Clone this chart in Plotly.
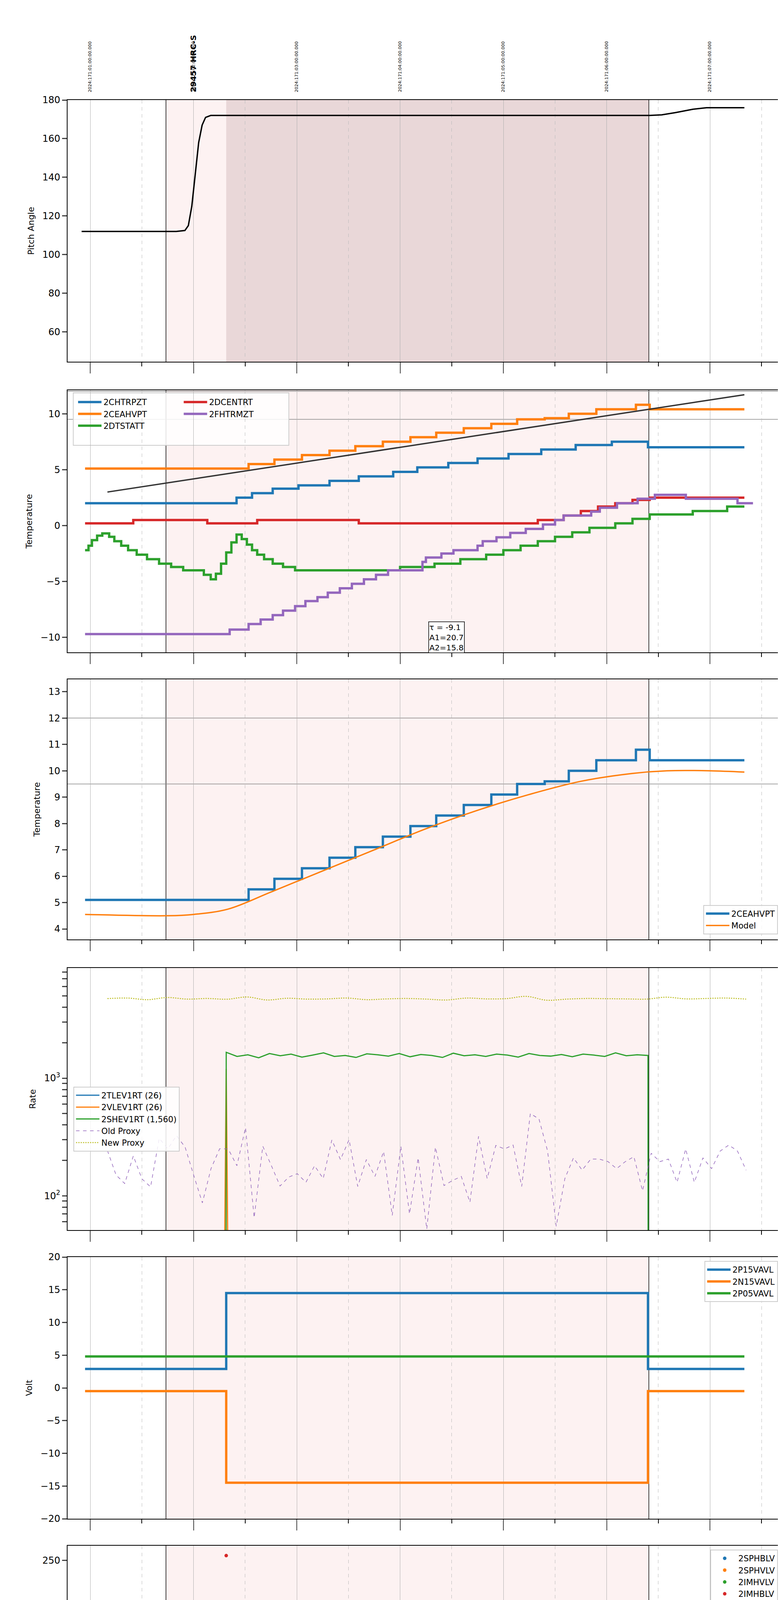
import pandas as pd
import plotly.graph_objects as go
from plotly.subplots import make_subplots

BLUE, ORANGE, GREEN, RED, PURPLE, OLIVE = "#1f77b4", "#ff7f0e", "#2ca02c", "#d62728", "#9467bd", "#bcbd22"
FONT = "DejaVu Sans"

def t(s):
    # local clock time -> timestamp (evening belongs to 2024-06-18)
    hh = int(s.split(":")[0])
    day = "2024-06-18" if hh >= 20 else "2024-06-19"
    return f"{day} {s}" if s.count(":") == 2 else f"{day} {s}:00"

def ts(lst):
    return [t(s) for s in lst]

X_RANGE = [t("20:46:50"), t("03:41:30")]
OBS_START, OBS_STOP = "21:44", "02:24:30"
HV_ON = "22:19"
TOP_LABELS = ["2024:171:01:00:00.000", "2024:171:02:00:00.000", "2024:171:03:00:00.000",
              "2024:171:04:00:00.000", "2024:171:05:00:00.000", "2024:171:06:00:00.000",
              "2024:171:07:00:00.000"]
TOP_HOURS = ["21:00", "22:00", "23:00", "00:00", "01:00", "02:00", "03:00"]
OBS_LABEL = "29457 HRC-S"
HALF_HOURS = ["21:30", "22:30", "23:30", "00:30", "01:30", "02:30", "03:30"]

# panel 1: pitch
PITCH_T = ["20:55", "21:50", "21:55", "21:57", "21:59", "22:01", "22:03", "22:05", "22:07", "22:10", "02:25", "02:32", "02:40", "02:50", "02:58", "03:03", "03:20"]
PITCH_V = [112, 112, 112.5, 115, 125, 142, 158, 167, 171, 172, 172, 172.3, 173.5, 175.2, 176, 176, 176]

# panel 2/3/8 temperatures (step series)
CHTRPZT_T = ["20:57", "22:25", "22:34", "22:46", "23:01", "23:19", "23:36", "23:56", "00:10", "00:28", "00:45", "01:03", "01:22", "01:42", "02:03", "02:24", "03:20"]
CHTRPZT_V = [2.0, 2.5, 2.9, 3.3, 3.6, 4.0, 4.4, 4.8, 5.2, 5.6, 6.0, 6.4, 6.8, 7.2, 7.5, 7.0, 7.0]
CEAHVPT_T = ["20:57", "22:32", "22:47", "23:03", "23:19", "23:34", "23:50", "00:06", "00:21", "00:37", "00:53", "01:08", "01:24", "01:38", "01:54", "02:17", "02:25", "03:20"]
CEAHVPT_V = [5.1, 5.5, 5.9, 6.3, 6.7, 7.1, 7.5, 7.9, 8.3, 8.7, 9.1, 9.5, 9.6, 10.0, 10.4, 10.8, 10.4, 10.4]
DTSTATT_T = ["20:57", "20:59", "21:01", "21:04", "21:07", "21:11", "21:14", "21:18", "21:22", "21:27", "21:33", "21:40", "21:47", "21:54", "22:06",
             "22:10", "22:13", "22:16", "22:19", "22:22", "22:25", "22:28", "22:31", "22:34", "22:37", "22:41", "22:46", "22:52", "22:59", "23:10",
             "00:00", "00:20", "00:35", "00:50", "01:00", "01:10", "01:20", "01:30", "01:40", "01:50", "02:05", "02:15", "02:25", "02:50", "03:10", "03:20"]
DTSTATT_V = [-2.2, -1.8, -1.3, -0.9, -0.7, -1.0, -1.4, -1.8, -2.2, -2.6, -3.0, -3.4, -3.7, -4.0, -4.4,
             -4.8, -4.3, -3.4, -2.4, -1.5, -0.8, -1.2, -1.7, -2.2, -2.6, -3.0, -3.4, -3.7, -4.0, -4.0,
             -3.7, -3.4, -3.0, -2.6, -2.2, -1.8, -1.4, -1.0, -0.6, -0.2, 0.2, 0.6, 1.0, 1.3, 1.7, 1.7]
DCENTRT_T = ["20:57", "21:25", "22:08", "22:37", "23:36", "01:20", "01:35", "01:45", "01:55", "02:05", "02:15", "02:25", "03:20"]
DCENTRT_V = [0.2, 0.5, 0.2, 0.5, 0.2, 0.5, 0.9, 1.3, 1.7, 2.0, 2.3, 2.5, 2.5]
FHTRMZT_T = ["20:57", "22:21", "22:32", "22:39", "22:46", "22:52", "22:59", "23:05", "23:12", "23:18", "23:25", "23:32", "23:39", "23:46", "23:53",
             "00:13", "00:15", "00:24", "00:31", "00:45", "00:48", "00:56", "01:04", "01:13", "01:23", "01:30", "01:35", "01:51", "01:56", "02:06",
             "02:18", "02:28", "02:46", "03:16", "03:25"]
FHTRMZT_V = [-9.7, -9.3, -8.8, -8.4, -8.0, -7.6, -7.2, -6.75, -6.4, -6.0, -5.6, -5.2, -4.8, -4.4, -4.0,
             -3.25, -2.85, -2.5, -2.2, -1.8, -1.4, -1.05, -0.65, -0.3, 0.1, 0.5, 0.9, 1.25, 1.6, 2.0,
             2.4, 2.75, 2.4, 2.0, 2.0]
TREND_T = ["21:10", "03:20"]
TREND_V = [3.0, 11.7]
LIMITS = [12.0, 9.5]
FIT_TEXT = "τ = -9.1<br>A1=20.7<br>A2=15.8"

MODEL_T = ["20:57", "21:45", "22:00", "22:20", "22:45", "23:15", "23:45", "00:15", "00:45", "01:15", "01:45", "02:15", "02:35", "03:00", "03:20"]
MODEL_V = [4.55, 4.5, 4.55, 4.75, 5.4, 6.2, 7.0, 7.8, 8.5, 9.1, 9.6, 9.9, 10.0, 10.0, 9.95]

# panel 4: rates
RATE_LOW_T = ["20:57", "22:18", "22:19", "22:20", "03:20"]
TLEV_V = [26, 26, 26, 26, 26]
VLEV_V = [26, 26, 1200, 26, 26]
SHEV_V = [1660, 1530, 1580, 1490, 1620, 1550, 1600, 1510, 1570, 1640, 1530, 1560, 1500, 1610, 1580, 1540, 1620, 1520, 1590, 1560,
          1500, 1630, 1550, 1580, 1530, 1600, 1570, 1510, 1620, 1560, 1540, 1590, 1520, 1600, 1570, 1530, 1640, 1550, 1580, 1560]
OLD_PROXY = [242, 150, 127, 218, 139, 119, 308, 250, 325, 259, 149, 87, 170, 251, 250, 180, 380, 65, 264, 180, 121, 144, 154, 130, 180,
             140, 298, 203, 300, 120, 203, 146, 238, 68, 264, 70, 210, 52, 259, 122, 135, 146, 88, 320, 140, 268, 250, 270, 120, 500,
             450, 240, 55, 140, 210, 165, 205, 205, 195, 170, 195, 215, 110, 230, 195, 205, 130, 250, 130, 210, 170, 240, 270, 240, 165]
NEW_PROXY = [4750, 4800, 4650, 4850, 4700, 4760, 4690, 4900, 4620, 4780, 4700, 4720, 4800, 4650, 4720, 4760, 4700, 4620, 4800, 4720,
             4750, 4960, 4600, 4700, 4760, 4740, 4720, 4700, 4880, 4720, 4760, 4800, 4700]
RATE_TICKS = [50, 60, 70, 80, 90, 100, 200, 300, 400, 500, 600, 700, 800, 900, 1000, 2000, 3000, 4000, 5000, 6000, 7000, 8000]

# panel 5: voltages
VOLT_T = ["20:57", "22:19", "02:24", "03:20"]
P15_V = [2.9, 14.5, 2.9, 2.9]
N15_V = [-0.5, -14.5, -0.5, -0.5]
P05_V = [4.8, 4.8, 4.8, 4.8]

# panel 6: HV monitor
SPHBLV_T = ["22:19", "22:19:30", "22:20", "22:20:30", "22:21", "22:21:30", "22:22"]
SPHBLV_V = [118, 102, 97, 92, 87, 82, 78]
SPHBLV_STEADY = ("22:22", "02:24", 77)
SPHVLV_T = ["22:19", "22:19:30", "22:20", "22:20:30", "22:21", "22:21:30", "22:22", "00:01", "00:03", "00:05", "00:07", "00:09", "00:34", "00:38", "00:41"]
SPHVLV_V = [127, 96, 91, 86, 80, 75, 71, 127, 127, 127, 127, 127, 127, 127, 127]
SPHVLV_STEADY = ("22:22", "02:24", 71)
IMHBLV_T = ["22:19"]
IMHBLV_V = [255]

# panel 7: detector temps
OFF = -50
SPINATM_T = ["22:19", "22:19:30", "22:21", "22:22", "22:25", "22:27", "22:29", "22:31", "22:34", "22:37", "22:41", "22:46", "22:53", "23:06", "00:31", "01:15", "01:55", "02:24"]
SPINATM_V = [OFF, 5.6, 6.3, 7.2, 6.7, 6.1, 5.6, 5.1, 4.6, 4.1, 3.6, 3.1, 2.7, 2.2, 2.7, 3.2, 3.6, 3.6]
SPHVATM_T = ["22:19", "22:19:30", "22:28", "22:34", "22:40", "22:47", "22:53", "23:03", "23:10", "23:17", "23:24", "23:32", "23:42", "23:52",
             "00:13", "00:25", "00:40", "00:55", "01:10", "01:27", "01:43", "02:00", "02:24"]
SPHVATM_V = [OFF, 13.3, 13.7, 14.1, 14.5, 14.9, 15.3, 15.7, 16.1, 16.5, 16.9, 17.3, 17.7, 18.1,
             18.8, 19.2, 19.6, 20.0, 20.4, 20.8, 21.1, 21.6, 21.6]
IMINATM_T = ["22:19", "22:19:30", "23:00", "00:45", "01:42", "02:24"]
IMINATM_V = [OFF, -0.5, -0.2, 0.3, 0.8, 0.8]
IMHVATM_T = ["22:19", "22:19:30", "22:52", "23:06", "23:22", "23:36", "23:50", "00:13", "00:20", "00:35", "00:50", "01:07", "01:22", "01:39", "01:56", "02:13", "02:24", "02:24:30"]
IMHVATM_V = [OFF, 12.6, 12.9, 13.3, 13.6, 14.0, 14.3, 14.6, 15.0, 15.3, 15.7, 16.1, 16.4, 16.8, 17.1, 17.4, 17.4, OFF]

# panel 8: FEA temps
FRADPYT_T = ["22:53", "23:00", "23:07", "23:14", "23:21", "23:28", "23:35", "23:43", "23:52", "23:59", "00:13", "00:15", "00:23", "00:32", "00:42",
             "00:49", "00:58", "01:07", "01:17", "01:26", "01:36", "01:45", "01:56", "02:06", "02:16", "02:27", "02:35", "03:05", "03:25"]
FRADPYT_V = [-9.2, -8.4, -8.0, -7.6, -7.2, -6.8, -6.4, -6.0, -5.6, -5.2, -4.9, -4.45, -4.05, -3.65, -3.3,
             -2.9, -2.5, -2.1, -1.75, -1.4, -1.0, -0.6, -0.25, 0.15, 0.5, 0.9, 0.5, 0.15, 0.15]
FEPRATM_T = ["22:24", "22:26", "22:29", "22:33", "22:37", "22:42", "22:48", "22:54", "22:59", "23:06", "23:13", "23:20", "23:27", "23:34", "23:42",
             "23:50", "23:58", "00:14", "00:15", "00:23", "00:35", "00:43", "00:50", "01:01", "01:11", "01:21", "01:32", "01:43", "01:55", "02:24"]
FEPRATM_V = [-9.0, -8.6, -8.1, -7.7, -7.3, -6.9, -6.5, -6.0, -5.6, -5.2, -4.8, -4.4, -3.9, -3.5, -3.1,
             -2.7, -2.3, -1.9, -1.4, -1.0, -0.5, 0.0, 0.4, 0.85, 1.3, 1.75, 2.2, 2.7, 3.2, 3.2]
FE00ATM_T = ["22:38", "22:38:30", "22:45", "22:50", "22:56", "23:00", "23:06", "23:11", "23:15", "23:21", "23:27", "23:31", "23:38", "23:43", "23:49",
             "23:54", "00:14", "00:20", "00:25", "00:43", "00:52", "00:59", "01:06", "01:13", "01:20", "01:24", "01:34", "01:41", "01:48", "01:50",
             "01:51", "01:56", "02:03", "02:10", "02:18", "02:23:30", "02:24"]
FE00ATM_V = [OFF, -9.0, -8.6, -8.2, -7.8, -7.4, -7.1, -6.8, -6.4, -6.0, -5.7, -5.4, -5.0, -4.7, -4.3,
             -4.0, -3.3, -2.9, -2.6, -1.9, -1.3, -0.95, -0.6, -0.25, 0.05, 0.35, 0.7, 1.0, 1.35, 0.3,
             1.35, 1.65, 2.0, 2.35, 2.6, 2.6, OFF]

# dropout glitches: main band and short spikes
GLITCH_MAIN = ("00:00", "00:13")
GLITCH_SPIKES = [("00:32", "00:33"), ("00:36:30", "00:37:30"), ("00:40:30", "00:41:30")]

RANGES = [[44.6, 180], [-11.33, 12.1], [3.6, 13.47], [1.708, 3.937], [-20, 20], [0, 265], [-1.5, 21.55], [-9.05, 3.09]]
TITLES = ["Pitch Angle", "Temperature", "Temperature", "Rate", "Volt", "HV Monitor", "Detector Temp", "FEA Temp"]
PANELS_PX = [(248, 918), (991, 1662), (1731, 2397), (2470, 3141), (3210, 3880), (3949, 4620), (4689, 5359), (5428, 6092)]

W, HGT = 2000, 6200
TOP, BOT = 248, 6092
PH = BOT - TOP

fig = make_subplots(rows=8, cols=1, shared_xaxes=True)


def step(x, y, color, name, row, legend, width=6, show=True):
    fig.add_trace(go.Scatter(x=ts(x), y=y, mode="lines", line=dict(color=color, width=width, shape="hv"),
                             name=name, legend=legend, showlegend=show), row=row, col=1)


def band(t0, t1, lo, hi, color, row):
    fig.add_trace(go.Scatter(x=ts([t0, t1, t1, t0, t0]), y=[lo, lo, hi, hi, lo], mode="lines", fill="toself",
                             fillcolor=color, line=dict(color=color, width=4), showlegend=False, hoverinfo="skip"),
                  row=row, col=1)


def glitches(color, row, main, spike):
    band(GLITCH_MAIN[0], GLITCH_MAIN[1], main[0], main[1], color, row)
    for a, b in GLITCH_SPIKES:
        band(a, b, spike[0], spike[1], color, row)


# panel 1
fig.add_trace(go.Scatter(x=ts(PITCH_T), y=PITCH_V, mode="lines", line=dict(color="black", width=3.5),
                         showlegend=False), row=1, col=1)

# panel 2 (legend filled row-wise: two legends side by side)
step(CHTRPZT_T, CHTRPZT_V, BLUE, "2CHTRPZT", 2, "legend")
step(CEAHVPT_T, CEAHVPT_V, ORANGE, "2CEAHVPT", 2, "legend")
step(DTSTATT_T, DTSTATT_V, GREEN, "2DTSTATT", 2, "legend")
step(DCENTRT_T, DCENTRT_V, RED, "2DCENTRT", 2, "legend2")
step(FHTRMZT_T, FHTRMZT_V, PURPLE, "2FHTRMZT", 2, "legend2")
fig.add_trace(go.Scatter(x=ts(TREND_T), y=TREND_V, mode="lines", line=dict(color="#333", width=3.5), showlegend=False), row=2, col=1)

# panel 3
step(CEAHVPT_T, CEAHVPT_V, BLUE, "2CEAHVPT", 3, "legend3")
fig.add_trace(go.Scatter(x=ts(MODEL_T), y=MODEL_V, mode="lines", line=dict(color=ORANGE, width=3.5, shape="spline"),
                         name="Model", legend="legend3"), row=3, col=1)

# panel 4
fig.add_trace(go.Scatter(x=ts(RATE_LOW_T), y=TLEV_V, mode="lines", line=dict(color=BLUE, width=3), name="2TLEV1RT (26)", legend="legend4"), row=4, col=1)
fig.add_trace(go.Scatter(x=ts(RATE_LOW_T), y=VLEV_V, mode="lines", line=dict(color=ORANGE, width=3), name="2VLEV1RT (26)", legend="legend4"), row=4, col=1)
shev_t = [t("20:57"), t("22:18:50")] + list(pd.date_range(t("22:19"), t("02:24"), periods=len(SHEV_V)).astype(str)) + [t("02:24:10"), t("03:20")]
fig.add_trace(go.Scatter(x=shev_t, y=[1, 1] + SHEV_V + [1, 1], mode="lines", line=dict(color=GREEN, width=3),
                         name="2SHEV1RT (1,560)", legend="legend4"), row=4, col=1)
fig.add_trace(go.Scatter(x=pd.date_range(t("21:10"), t("03:21"), periods=len(OLD_PROXY)), y=OLD_PROXY, mode="lines",
                         line=dict(color=PURPLE, width=1.5, dash="dash"), name="Old Proxy", legend="legend4"), row=4, col=1)
fig.add_trace(go.Scatter(x=pd.date_range(t("21:10"), t("03:21"), periods=len(NEW_PROXY)), y=NEW_PROXY, mode="lines",
                         line=dict(color=OLIVE, width=2.5, dash="dot", shape="spline"), name="New Proxy", legend="legend4"), row=4, col=1)

# panel 5
step(VOLT_T, P15_V, BLUE, "2P15VAVL", 5, "legend5")
step(VOLT_T, N15_V, ORANGE, "2N15VAVL", 5, "legend5")
step(VOLT_T, P05_V, GREEN, "2P05VAVL", 5, "legend5")

# panel 6
for (steady, color) in [(SPHBLV_STEADY, BLUE), (SPHVLV_STEADY, ORANGE)]:
    fig.add_trace(go.Scatter(x=ts([steady[0], steady[1]]), y=[steady[2]] * 2, mode="lines", line=dict(color=color, width=12),
                             showlegend=False), row=6, col=1)
fig.add_trace(go.Scatter(x=ts(SPHBLV_T), y=SPHBLV_V, mode="markers", marker=dict(color=BLUE, size=9), name="2SPHBLV", legend="legend6"), row=6, col=1)
fig.add_trace(go.Scatter(x=ts(SPHVLV_T), y=SPHVLV_V, mode="markers", marker=dict(color=ORANGE, size=9), name="2SPHVLV", legend="legend6"), row=6, col=1)
fig.add_trace(go.Scatter(x=[None], y=[None], mode="markers", marker=dict(color=GREEN, size=9), name="2IMHVLV", legend="legend6"), row=6, col=1)
fig.add_trace(go.Scatter(x=ts(IMHBLV_T), y=IMHBLV_V, mode="markers", marker=dict(color=RED, size=9), name="2IMHBLV", legend="legend6"), row=6, col=1)

# panel 7
step(SPINATM_T, SPINATM_V, BLUE, "2SPINATM", 7, "legend7", width=7)
glitches(BLUE, 7, (-1.5, 2.2), (-1.5, 2.7))
step(SPHVATM_T, SPHVATM_V, ORANGE, "2SPHVATM", 7, "legend7", width=7)
glitches(ORANGE, 7, (9.0, 18.5), (9.6, 19.3))
step(IMINATM_T, IMINATM_V, GREEN, "2IMINATM", 7, "legend7", width=7)
glitches(GREEN, 7, (-0.2, 2.2), (-0.2, 2.7))
step(IMHVATM_T, IMHVATM_V, RED, "2IMHVATM", 7, "legend7", width=7)
glitches(RED, 7, (14.3, 18.5), (15.2, 19.3))

# panel 8
step(FHTRMZT_T, FHTRMZT_V, BLUE, "2FHTRMZT", 8, "legend8", width=7)
step(FRADPYT_T, FRADPYT_V, ORANGE, "2FRADPYT", 8, "legend8", width=7)
step(FEPRATM_T, FEPRATM_V, GREEN, "2FEPRATM", 8, "legend8", width=7)
glitches(GREEN, 8, (-9.05, -3.7), (-9.05, -2.0))
step(FE00ATM_T, FE00ATM_V, RED, "2FE00ATM", 8, "legend8", width=7)
glitches(RED, 8, (-4.0, 3.1), (-2.3, 3.1))

# axes
for i in range(8):
    n = i + 1
    top, bot = PANELS_PX[i]
    dom = [(BOT - bot) / PH, (BOT - top) / PH]
    ya = dict(domain=dom, range=RANGES[i], showline=True, mirror=True, linecolor="black", linewidth=2,
              ticks="outside", ticklen=12, tickwidth=3, showgrid=False, zeroline=False,
              title=dict(text=TITLES[i], font=dict(size=22, family=FONT)), tickfont=dict(size=24, family=FONT))
    if n == 4:
        ya.update(type="log", tickvals=RATE_TICKS,
                  ticktext=["10<sup>2</sup>" if v == 100 else "10<sup>3</sup>" if v == 1000 else "" for v in RATE_TICKS])
    if n == 5:
        ya.update(dtick=5)
    if n == 1:
        ya.update(dtick=20, tick0=0)
    fig.update_layout({f"yaxis{'' if n == 1 else n}": ya})
    xa = dict(range=X_RANGE, type="date", showline=True, mirror=True, linecolor="black", linewidth=2,
              tick0=t("21:00"), dtick=3600000, tickformat="%Hh", ticks="outside", ticklen=28, tickwidth=2,
              showgrid=True, gridcolor="#b0b0b0", gridwidth=1, zeroline=False,
              minor=dict(dtick=1800000, tick0=t("20:30"), ticks="outside", ticklen=10, tickwidth=1.5, tickcolor="black",
                         showgrid=True, griddash="dash", gridcolor="#bbbbbb", gridwidth=1),
              showticklabels=(n == 8), tickfont=dict(size=24, family=FONT))
    if n == 8:
        xa["title"] = dict(text="2024-06-19 (171)", font=dict(size=26, family=FONT), standoff=20)
    fig.update_layout({f"xaxis{'' if n == 1 else n}": xa})

    yref = f"y{'' if n == 1 else n} domain"
    fig.add_shape(type="rect", xref="x", yref=yref, x0=t(OBS_START), x1=t(OBS_STOP), y0=0, y1=1,
                  fillcolor="rgba(240,150,150,0.12)", line=dict(width=0), layer="below")
    for edge in (OBS_START, OBS_STOP):
        fig.add_shape(type="line", xref="x", yref=yref, x0=t(edge), x1=t(edge), y0=0, y1=1,
                      line=dict(color="black", width=1.5), layer="below")
    if n == 1:
        fig.add_shape(type="rect", xref="x", yref=yref, x0=t(HV_ON), x1=t(OBS_STOP), y0=0, y1=1,
                      fillcolor="rgba(120,60,70,0.15)", line=dict(width=0), layer="below")
    if n in (2, 3):
        for lv in LIMITS:
            fig.add_shape(type="line", xref="x domain", yref=f"y{n}", x0=0, x1=1, y0=lv, y1=lv,
                          line=dict(color="#888", width=1.5), layer="below")

fig.add_annotation(x=t("00:27"), y=-10.0, xref="x2", yref="y2", text=FIT_TEXT, showarrow=False, align="left",
                   bordercolor="black", borderwidth=1.5, bgcolor="white", font=dict(size=20, family=FONT))

for lbl, hr in zip(TOP_LABELS, TOP_HOURS):
    fig.add_annotation(x=t(hr), y=1 + 18 / PH, xref="x", yref="paper", text=lbl, showarrow=False, textangle=-90,
                       yanchor="bottom", font=dict(size=11, family=FONT))
fig.add_annotation(x=t("22:00"), y=1 + 18 / PH, xref="x", yref="paper", text=f"<b>{OBS_LABEL}</b>", showarrow=False,
                   textangle=-90, yanchor="bottom", font=dict(size=20, family=FONT))
for hh in HALF_HOURS:
    fig.add_annotation(x=t(hh), y=-16 / PH, xref="x8", yref="paper", text=hh[-2:], showarrow=False,
                       yanchor="middle", font=dict(size=13, family=FONT))


def dom_y(n, frac):
    top, bot = PANELS_PX[n - 1]
    return (BOT - (bot - frac * (bot - top))) / PH


LEG = dict(font=dict(size=21, family=FONT), bgcolor="rgba(255,255,255,0.85)", bordercolor="#cccccc", borderwidth=2,
           tracegroupgap=4, itemwidth=60)
fig.update_layout(
    width=W, height=HGT, plot_bgcolor="white", paper_bgcolor="white",
    margin=dict(l=165, r=5, t=TOP, b=HGT - BOT),
    font=dict(family=FONT, color="black"),
    legend=dict(LEG, x=0.012, y=dom_y(2, 0.985), xanchor="left", yanchor="top", borderwidth=0, bgcolor="rgba(0,0,0,0)"),
    legend2=dict(LEG, x=0.16, y=dom_y(2, 0.985), xanchor="left", yanchor="top", borderwidth=0, bgcolor="rgba(0,0,0,0)"),
    legend3=dict(LEG, x=0.995, y=dom_y(3, 0.02), xanchor="right", yanchor="bottom"),
    legend4=dict(LEG, x=0.008, y=dom_y(4, 0.3), xanchor="left", yanchor="bottom"),
    legend5=dict(LEG, x=0.995, y=dom_y(5, 0.985), xanchor="right", yanchor="top"),
    legend6=dict(LEG, x=0.995, y=dom_y(6, 0.985), xanchor="right", yanchor="top"),
    legend7=dict(LEG, x=0.995, y=dom_y(7, 0.995), xanchor="right", yanchor="top"),
    legend8=dict(LEG, x=0.995, y=dom_y(8, 0.02), xanchor="right", yanchor="bottom"),
)
# frame around the two-column panel 2 legend
fig.add_shape(type="rect", xref="paper", yref="paper", x0=0.008, x1=0.31, y0=dom_y(2, 0.79), y1=dom_y(2, 0.99),
              fillcolor="rgba(255,255,255,0.85)", line=dict(color="#cccccc", width=2), layer="below")

fig.write_html("out.html")
